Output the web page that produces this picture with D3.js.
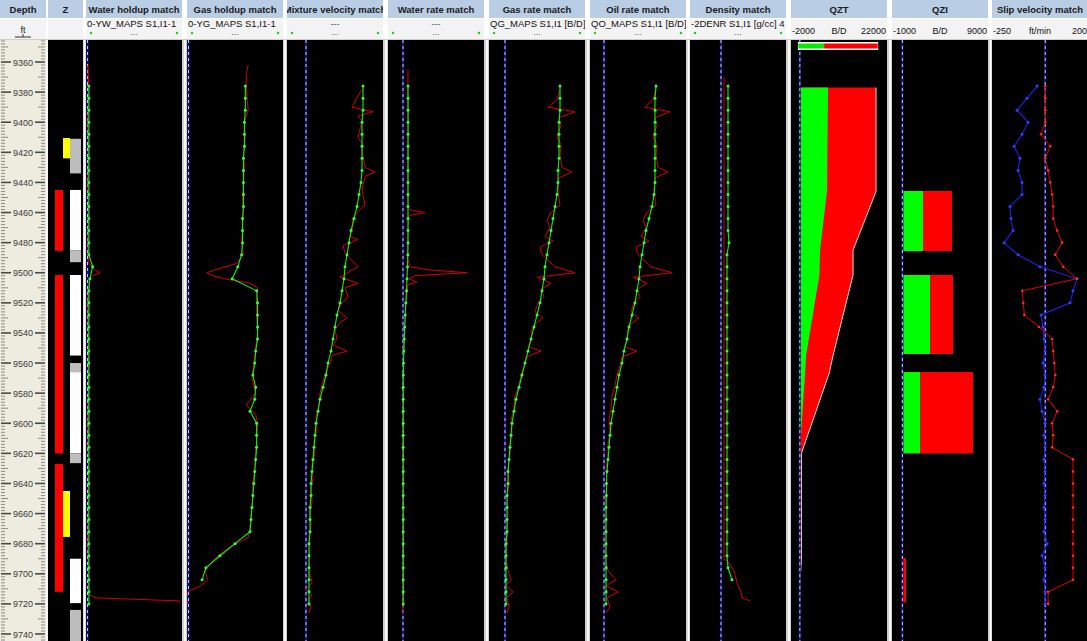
<!DOCTYPE html>
<html><head><meta charset="utf-8">
<script src="https://cdn.jsdelivr.net/npm/d3@7"></script>
<style>body{margin:0;background:#fff}svg{display:block}</style>
</head><body>
<svg id="c" width="1087" height="641"></svg>
<script>
// ---------------- DATA ----------------
const depthLabels = [9360,9380,9400,9420,9440,9460,9480,9500,9520,9540,9560,9580,9600,9620,9640,9660,9680,9700,9720,9740];
const trackTitles = ["Water holdup match","Gas holdup match","Mixture velocity match","Water rate match","Gas rate match","Oil rate match","Density match","QZT","QZI","Slip velocity match"];
const trackSubtitles = ["0-YW_MAPS  S1,I1-1","0-YG_MAPS  S1,I1-1","","","QG_MAPS  S1,I1 [B/D]","QO_MAPS  S1,I1 [B/D]","-2DENR  S1,I1 [g/cc]  4","","",""];
const scaleLabels = [null,null,null,null,null,null,null,["-2000","B/D","22000"],["-1000","B/D","9000"],["-250","ft/min","200"]];

// Z track intervals (ft)
const zRed = [[9445,9485.5],[9501.5,9620],[9627,9712]];
const zYellow = [[9410.5,9424],[9645,9675.5]];
const zWhite = [[9445,9485],[9501.5,9555],[9566,9620],[9690,9719.5]];
const zGrey = [[9411,9434],[9485,9493],[9560,9566],[9620,9626.5],[9724,9746]];

// model (simulated) depths
const modelDepth = [9376,9384,9392,9400,9408,9416,9424,9432,9440,9448,9456,9464,9472,9480,9488,9496,9504,9512,9520,9528,9536,9544,9552,9560,9568,9576,9584,9592,9600,9608,9616,9624,9632,9640,9648,9656,9664,9672,9680,9688,9696,9704,9712,9720];

const waterHoldupModel = [0.02,0.02,0.02,0.02,0.02,0.02,0.02,0.02,0.02,0.02,0.02,0.02,0.02,0.02,0.02,0.06,0.03,0.02,0.02,0.02,0.02,0.02,0.02,0.02,0.02,0.02,0.02,0.02,0.02,0.02,0.02,0.02,0.02,0.02,0.02,0.02,0.02,0.02,0.02,0.02,0.02,0.02,0.02,0.02];
const waterHoldupDepth = [9362,9380,9400,9420,9440,9460,9480,9494,9498,9500,9502,9505,9520,9560,9600,9640,9680,9700,9714,9716,9718,9719];
const waterHoldupLog = [0.01,0.02,0.01,0.02,0.01,0.02,0.01,0.02,0.08,0.14,0.06,0.02,0.01,0.02,0.01,0.02,0.01,0.02,0.02,0.1,0.98,0.99];

const gasHoldupModel = [0.61,0.61,0.61,0.60,0.60,0.60,0.59,0.59,0.59,0.59,0.59,0.58,0.58,0.58,0.57,0.53,0.47,0.73,0.74,0.74,0.74,0.74,0.72,0.71,0.69,0.72,0.71,0.66,0.73,0.73,0.73,0.72,0.71,0.70,0.69,0.68,0.67,0.66,0.50,0.34,0.19,0.15,null,null];
const gasHoldupDepth = [9362,9368,9376,9385,9392,9400,9410,9420,9430,9440,9450,9460,9470,9480,9488,9494,9498,9500,9502,9504,9507,9510,9516,9530,9540,9550,9560,9570,9580,9588,9594,9600,9610,9620,9630,9640,9650,9660,9670,9676,9682,9690,9698,9704,9708,9712,9716,9720];
const gasHoldupLog = [0.64,0.62,0.62,0.63,0.64,0.60,0.61,0.59,0.60,0.59,0.58,0.59,0.58,0.57,0.59,0.51,0.29,0.20,0.26,0.39,0.66,0.74,0.73,0.73,0.74,0.72,0.70,0.68,0.72,0.62,0.72,0.74,0.73,0.72,0.71,0.69,0.69,0.67,0.66,0.64,0.45,0.28,0.18,0.21,0.13,0.0,-0.02,0.0];

const mixVelModel = [57,57,57,56,56,56,56,56,55,53,51,48,45,43,41,39,38,36,34,31,29,27,25,22,20,17,14,12,10,9,8,7,6,5,5,4,4,4,3,3,3,3,3,3];
const mixVelDepth = [9378,9380,9390,9393,9396,9399,9410,9414,9422,9430,9433,9436,9445,9455,9460,9465,9470,9476,9478,9482,9487,9496,9503,9507,9510,9516,9520,9525,9530,9533,9538,9544,9548,9552,9555,9560,9566,9572,9580,9588,9596,9604,9612,9620,9628,9636,9644,9652,9660,9668,9676,9684,9692,9700,9706,9710,9714,9718,9722,9726];
const mixVelLog = [58,54,46,67,52,56,52,56,57,59,69,59,56,59,51,46,47,44,52,37,39,52,34,52,39,42,36,32,41,34,29,31,27,41,26,24,20,17,14,13,10,11,8,9,6,7,5,6,4,5,3,4,3,4,6,0,6,2,5,3];

const waterRateModel = [50,50,50,50,50,50,50,50,50,50,50,50,50,50,48,45,40,35,28,22,17,12,8,5,3,2,2,2,2,2,2,2,2,2,2,2,2,2,2,2,2,2,2,2];
const waterRateDepth = [9365,9380,9400,9420,9440,9456,9458,9460,9462,9470,9480,9490,9496,9498,9500,9502,9504,9506,9508,9520,9540,9560,9600,9650,9700,9726];
const waterRateLog = [50,48,52,50,49,50,60,220,60,50,48,46,70,250,640,120,60,140,50,30,15,5,2,2,2,2];

const gasRateModel = [2750,2750,2750,2700,2700,2700,2700,2650,2650,2600,2500,2400,2300,2200,2100,2000,1950,1850,1750,1600,1450,1300,1150,1000,850,700,550,450,350,300,250,200,150,150,100,100,100,100,50,50,50,50,50,50];
const gasRateDepth = [9378,9385,9390,9393,9397,9402,9410,9415,9422,9430,9433,9437,9445,9455,9460,9465,9470,9476,9479,9483,9488,9496,9500,9503,9507,9511,9516,9520,9526,9530,9534,9539,9545,9549,9552,9556,9562,9568,9575,9582,9590,9598,9606,9614,9622,9630,9640,9650,9660,9670,9680,9690,9698,9704,9708,9712,9716,9722,9726];
const gasRateLog = [2750,2600,2150,3500,2700,2800,2600,2800,2750,2850,3350,2700,2650,2750,2300,2100,2250,2000,2400,1750,1850,2500,3500,1600,2300,1800,1950,1650,1500,1900,1500,1300,1350,1150,1800,1050,950,800,700,500,450,300,350,250,250,150,200,100,150,100,100,50,150,300,50,400,100,200,100];

const oilRateModel = [2600,2550,2550,2550,2550,2550,2550,2550,2550,2500,2400,2250,2100,2000,1900,1800,1750,1650,1550,1400,1250,1150,1000,900,750,650,550,450,350,300,250,200,150,120,120,100,100,100,100,100,100,100,100,100];
const oilRateDepth = gasRateDepth;
const oilRateLog = [2600,2450,2050,3300,2550,2650,2450,2650,2600,2700,3200,2550,2500,2600,2150,1950,2100,1850,2250,1600,1700,2350,3400,1450,2150,1650,1800,1500,1350,1750,1350,1150,1200,1000,1650,900,800,650,550,400,350,250,300,200,200,100,150,80,120,80,100,50,200,600,100,700,150,300,100];

const densityModel = [0.07,0.07,0.07,0.07,0.07,0.07,0.07,0.07,0.07,0.07,0.07,0.07,0.07,0.08,0.06,0.06,0.06,0.06,0.06,0.06,0.06,0.06,0.06,0.06,0.06,0.06,0.06,0.06,0.06,0.06,0.06,0.06,0.06,0.06,0.06,0.06,0.06,0.06,0.06,0.06,0.07,0.11,null,null];
const densityDepth = [9370,9450,9550,9650,9690,9692,9698,9706,9712,9716,9718];
const densityLog = [0.03,0.03,0.03,0.03,0.03,0.07,0.13,0.16,0.20,0.21,0.29];

const qztDepth = [9377,9446,9485,9501.5,9555,9567,9620,9690,9704,9718];
const qztGreen = [7200,6940,5160,5000,1600,1330,0,0,0,0];
const qztRed = [12250,12510,8420,8580,6880,6130,400,400,100,0];

const qziTop = [9445.7,9501.5,9566,9689.6];
const qziBottom = [9485.6,9554,9620,9719];
const qziGreen = [2190,2940,1870,0];
const qziRed = [3090,2440,5640,380];

const slipBlue = [-39,-87,-135,-82,-111,-149,-121,-130,-111,-111,-169,-164,-154,-197,-130,-25,152,133,119,-20,-11,-6,-1,-11,-1,-6,-25,-15,-1,-6,-1,-6,-1,-6,-1,-6,-1,-6,9,-15,-1,-6,-1,-1];
const slipRed = [0,0,0,0,-20,24,0,14,24,33,38,38,57,81,48,86,152,-110,-105,-100,-30,33,38,43,48,38,14,57,33,38,33,133,133,133,133,133,133,133,133,133,133,133,14,14];

// ---------------- LAYOUT ----------------
const svg = d3.select('#c');
const y = d3.scaleLinear().domain([9360,9740]).range([62,634]);
const bodyTop = 40, bodyBot = 641;
const x0s = [86,187,287,388,489,590,690,791,892,992];
const tw = 96;
const domains = [[0,1],[0,1],[-18,76],[-140,800],[-750,3950],[-650,4050],[-0.30,0.64],[-2000,22000],[-1000,9000],[-250,200]];
const xs = domains.map((d,i)=>d3.scaleLinear().domain(d).range([x0s[i]+1,x0s[i]+tw-1]));

svg.append('rect').attr('width',1087).attr('height',641).attr('fill','#ffffff');
svg.append('rect').attr('x',0).attr('y',bodyTop-1).attr('width',1087).attr('height',bodyBot-bodyTop+1).attr('fill','#cfcfcf');

const defs = svg.append('defs');
function clip(id,x,yy,w,h){defs.append('clipPath').attr('id',id).append('rect').attr('x',x).attr('y',yy).attr('width',w).attr('height',h);return 'url(#'+id+')';}

const hdrBlue = '#b9cde4', hdrLight = '#f3f3f3';
function header(x,w,title,i){
  const g = svg.append('g').attr('clip-path',clip('hc'+i,x,0,w,40));
  g.append('rect').attr('x',x).attr('y',0).attr('width',w).attr('height',18).attr('fill',hdrBlue);
  g.append('rect').attr('x',x).attr('y',19).attr('width',w).attr('height',20).attr('fill',hdrLight);
  g.append('text').attr('x',x+w/2).attr('y',13).attr('text-anchor','middle')
    .attr('font-family','Liberation Sans, Arial, sans-serif').attr('font-weight','bold').attr('font-size',9.5).attr('fill','#1a1a1a').text(title);
  return g;
}

// Depth track
const gd = header(0,46,'Depth','d');
gd.append('text').attr('x',23).attr('y',33).attr('text-anchor','middle').attr('font-family','Liberation Sans, Arial').attr('font-size',9).attr('fill','#222').text('ft');
gd.append('line').attr('x1',15).attr('x2',31).attr('y1',37).attr('y2',37).attr('stroke','#333');
gd.append('line').attr('x1',23).attr('x2',23).attr('y1',34).attr('y2',37).attr('stroke','#333');
svg.append('rect').attr('x',0).attr('y',bodyTop).attr('width',46).attr('height',bodyBot-bodyTop).attr('fill','#eeecdf');
const tickD = d3.range(9346,9746,2);
const gt = svg.append('g').attr('clip-path',clip('dclip',0,bodyTop,46,bodyBot-bodyTop));
tickD.forEach(d=>{
  const L = d%20===0?10:(d%10===0?7:4);
  const col = d%20===0?'#4a4a44':'#8c8c84';
  gt.append('line').attr('x1',1).attr('x2',1+L).attr('y1',y(d)).attr('y2',y(d)).attr('stroke',col).attr('stroke-width',d%20===0?1.6:1);
  gt.append('line').attr('x1',45-L).attr('x2',45).attr('y1',y(d)).attr('y2',y(d)).attr('stroke',col).attr('stroke-width',d%20===0?1.6:1);
});
depthLabels.forEach(d=>{
  gt.append('rect').attr('x',11).attr('y',y(d)-5).attr('width',24).attr('height',10).attr('fill','#eeecdf');
  gt.append('text').attr('x',23).attr('y',y(d)+3.5).attr('text-anchor','middle').attr('font-family','Liberation Sans, Arial').attr('font-size',9).attr('fill','#3a3a3a').text(d);
});

// Z track
header(48,35,'Z','z');
svg.append('rect').attr('x',48).attr('y',bodyTop).attr('width',35).attr('height',bodyBot-bodyTop).attr('fill','#000');
const gz = svg.append('g').attr('clip-path',clip('zclip',48,bodyTop,35,bodyBot-bodyTop));
function zbars(arr,x,w,col){arr.forEach(a=>gz.append('rect').attr('x',x).attr('y',y(a[0])).attr('width',w).attr('height',y(a[1])-y(a[0])).attr('fill',col));}
zbars(zWhite,70,11,'#ffffff');
zbars(zGrey,70,11,'#bdbdbd');
zbars(zRed,55,8,'#ff0000');
zbars(zYellow,63,7,'#ffff00');

const ff = 'Liberation Sans, Arial, sans-serif';
const lineGen = (sx,depths)=>d3.line().defined(d=>d!=null).x(d=>sx(d)).y((d,i)=>y(depths[i]));

trackTitles.forEach((t,i)=>{
  const x=x0s[i];
  const g = header(x,tw,t,i);
  if(trackSubtitles[i]){
    const txt = g.append('text').attr('x',x+1).attr('y',27).attr('font-family',ff).attr('font-size',9.5).attr('fill','#111');
    if(i<2){
      const s = trackSubtitles[i];
      txt.append('tspan').text(s.slice(0,-2));
      txt.append('tspan').attr('fill','#e00000').text('-');
      txt.append('tspan').text('1');
    } else txt.text(trackSubtitles[i]);
  }
  if(scaleLabels[i]){
    const s=scaleLabels[i];
    g.append('text').attr('x',x+1).attr('y',34).attr('font-family',ff).attr('font-size',9).attr('fill','#111').text(s[0]);
    g.append('text').attr('x',x+tw/2).attr('y',34).attr('text-anchor','middle').attr('font-family',ff).attr('font-size',9).attr('fill','#111').text(s[1]);
    g.append('text').attr('x',x+tw-1).attr('y',34).attr('text-anchor','end').attr('font-family',ff).attr('font-size',9).attr('fill','#111').text(s[2]);
  } else {
    if(i===2||i===3) g.append('text').attr('x',x+tw/2).attr('y',27).attr('text-anchor','middle').attr('font-family',ff).attr('font-size',9).attr('fill','#555').text('---');
    g.append('text').attr('x',x+tw/2).attr('y',35).attr('text-anchor','middle').attr('font-family',ff).attr('font-size',9).attr('fill','#555').text('...');
    g.append('circle').attr('cx',x+5).attr('cy',33).attr('r',1.2).attr('fill','#22cc22');
    g.append('circle').attr('cx',x+tw-5).attr('cy',33).attr('r',1.2).attr('fill','#22cc22');
  }
  svg.append('rect').attr('x',x).attr('y',bodyTop).attr('width',tw).attr('height',bodyBot-bodyTop).attr('fill','#000');
});
[47,84.5,185,285,386,487,588,688.5,789,890,990.5].forEach(x=>{
  svg.append('line').attr('x1',x).attr('x2',x).attr('y1',bodyTop).attr('y2',bodyBot).attr('stroke','#ffffff').attr('stroke-width',1.6);
});

function body(i){return svg.append('g').attr('clip-path',clip('b'+i,x0s[i],bodyTop,tw,bodyBot-bodyTop));}
function zeroLine(g,i){
  const zx = Math.max(xs[i](0), x0s[i]+1.5);
  g.append('line').attr('x1',zx).attr('x2',zx).attr('y1',bodyTop).attr('y2',bodyBot).attr('stroke','#16167a').attr('stroke-width',2.2);
  g.append('line').attr('x1',zx).attr('x2',zx).attr('y1',bodyTop).attr('y2',bodyBot).attr('stroke','#c8c8e0').attr('stroke-width',1).attr('stroke-dasharray','3,3');
}
const RED='#d40000', GREEN='#10ee10';
function redCurve(g,i,depths,vals,w){
  g.append('path').attr('d',lineGen(xs[i],depths)(vals)).attr('fill','none').attr('stroke',RED).attr('stroke-width',w||1);
}
function greenCurve(g,i,vals){
  g.append('path').attr('d',lineGen(xs[i],modelDepth)(vals)).attr('fill','none').attr('stroke',GREEN).attr('stroke-width',1.1);
  g.selectAll(null).data(vals.map((v,k)=>[v,modelDepth[k]]).filter(d=>d[0]!=null)).enter().append('circle')
    .attr('cx',d=>xs[i](d[0])).attr('cy',d=>y(d[1])).attr('r',1.5).attr('fill','#33ff33');
}

const logs = [[waterHoldupDepth,waterHoldupLog,waterHoldupModel],[gasHoldupDepth,gasHoldupLog,gasHoldupModel],[mixVelDepth,mixVelLog,mixVelModel],[waterRateDepth,waterRateLog,waterRateModel],[gasRateDepth,gasRateLog,gasRateModel],[oilRateDepth,oilRateLog,oilRateModel],[densityDepth,densityLog,densityModel]];
logs.forEach((L,i)=>{
  const g = body(i);
  zeroLine(g,i);
  redCurve(g,i,L[0],L[1]);
  greenCurve(g,i,L[2]);
});

// QZT
{
  const i=7, g=body(i), sx=xs[i];
  const stacked = qztDepth.map((d,k)=>({d,g:qztGreen[k],t:qztGreen[k]+qztRed[k]}));
  g.append('path').datum(stacked).attr('d',d3.area().x0(sx(0)).x1(p=>sx(p.t)).y(p=>y(p.d))).attr('fill','#ff0000');
  g.append('path').datum(stacked).attr('d',d3.area().x0(sx(0)).x1(p=>sx(p.g)).y(p=>y(p.d))).attr('fill','#00ff00');
  g.append('path').datum(stacked).attr('d',d3.line().x(p=>sx(p.t)).y(p=>y(p.d))).attr('fill','none').attr('stroke','#ffd0d0').attr('stroke-width',1);
  zeroLine(g,i);
  g.append('rect').attr('x',sx(-500)).attr('y',42).attr('width',sx(20000)-sx(-500)).attr('height',8).attr('fill','#fff');
  g.append('rect').attr('x',sx(-400)).attr('y',43.5).attr('width',sx(6200)-sx(-400)).attr('height',5).attr('fill','#00ee00');
  g.append('rect').attr('x',sx(6200)).attr('y',43.5).attr('width',sx(19900)-sx(6200)).attr('height',5).attr('fill','#ff0000');
}
// QZI
{
  const i=8, g=body(i), sx=xs[i];
  qziTop.forEach((t,k)=>{
    g.append('rect').attr('x',sx(0)).attr('y',y(t)).attr('width',sx(qziGreen[k]+qziRed[k])-sx(0)).attr('height',y(qziBottom[k])-y(t)).attr('fill','#ff0000');
    g.append('rect').attr('x',sx(0)).attr('y',y(t)).attr('width',sx(qziGreen[k])-sx(0)).attr('height',y(qziBottom[k])-y(t)).attr('fill','#00ff00');
  });
  zeroLine(g,i);
}
// Slip
{
  const i=9, g=body(i), sx=xs[i];
  zeroLine(g,i);
  const lg = d3.line().x(d=>sx(d)).y((d,k)=>y(modelDepth[k]));
  g.append('path').attr('d',lg(slipBlue)).attr('fill','none').attr('stroke','#2020e0').attr('stroke-width',1.1);
  g.selectAll(null).data(slipBlue).enter().append('circle').attr('cx',d=>sx(d)).attr('cy',(d,k)=>y(modelDepth[k])).attr('r',1.5).attr('fill','#3a3aff');
  g.append('path').attr('d',lg(slipRed)).attr('fill','none').attr('stroke','#e00000').attr('stroke-width',1);
  g.selectAll(null).data(slipRed).enter().append('circle').attr('cx',d=>sx(d)).attr('cy',(d,k)=>y(modelDepth[k])).attr('r',1.3).attr('fill','#ff2a2a');
}
</script>
</body></html>
